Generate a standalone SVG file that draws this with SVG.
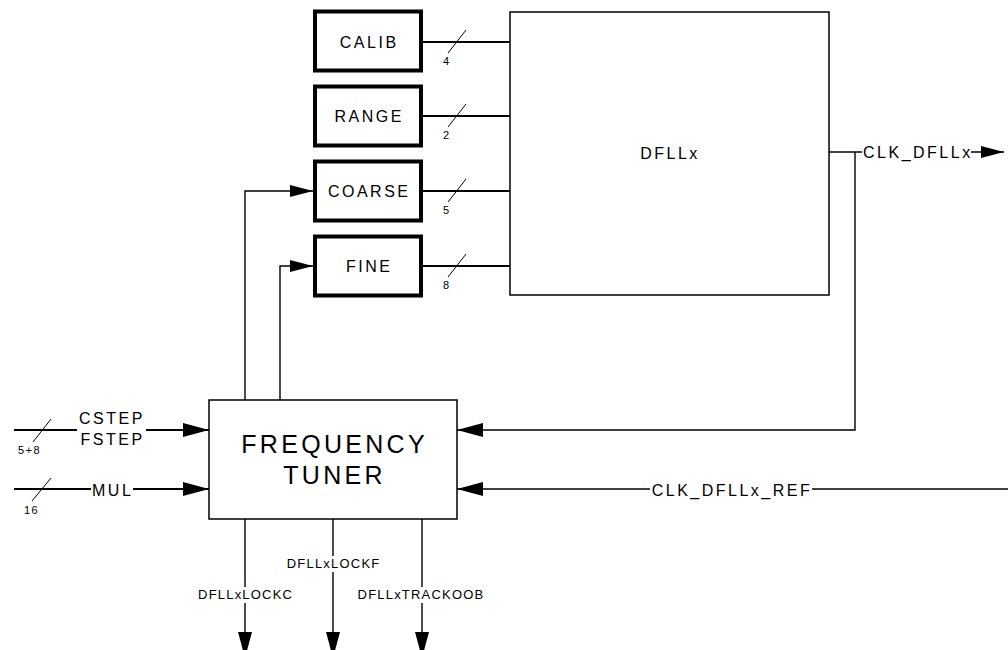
<svg xmlns="http://www.w3.org/2000/svg" width="1008" height="650" viewBox="0 0 1008 650">
<style>
  text { font-family: "Liberation Sans", Arial, sans-serif; fill: #000; }
  .reg { fill: #fff; stroke: #000; stroke-width: 4; }
  .blk { fill: #fff; stroke: #000; stroke-width: 1.5; }
  .lbl { font-size: 16px; letter-spacing: 2.5px; }
  .big { font-size: 25px; letter-spacing: 3.3px; }
  .num { font-size: 11px; letter-spacing: 1.5px; }
  .sig { font-size: 13px; letter-spacing: 1.2px; }
  .bus { fill: none; stroke: #000; stroke-width: 2; }
  .wire { fill: none; stroke: #000; stroke-width: 1.4; }
  .slash { fill: none; stroke: #000; stroke-width: 1; }
</style>
<defs>
  <marker id="arr" markerUnits="userSpaceOnUse" markerWidth="26" markerHeight="14" refX="26" refY="7" orient="auto">
    <path d="M0,0 L26,7 L0,14 Z" fill="#000"/>
  </marker>
  <marker id="arrS" markerUnits="userSpaceOnUse" markerWidth="23" markerHeight="12" refX="23" refY="6" orient="auto">
    <path d="M0,0 L23,6 L0,12 Z" fill="#000"/>
  </marker>
</defs>

<g id="connectors">
  <!-- register buses to DFLLx -->
  <path class="bus" d="M423,42 H510 M423,116 H510 M423,191 H510 M423,266 H510"/>
  <path class="slash" d="M448,53 L466,30 M448,127 L466,104 M448,202 L466,179 M448,277 L466,254"/>
  <text class="num" x="443" y="65">4</text>
  <text class="num" x="443" y="139">2</text>
  <text class="num" x="443" y="214">5</text>
  <text class="num" x="443" y="289">8</text>

  <!-- tuner to COARSE / FINE -->
  <path class="wire" d="M245,400 V191 H313" marker-end="url(#arrS)"/>
  <path class="wire" d="M280,400 V266 H313" marker-end="url(#arrS)"/>

  <!-- CLK_DFLLx output -->
  <path class="wire" d="M829,152 H862"/>
  <text class="lbl" x="863" y="157.5">CLK_DFLLx</text>
  <path class="wire" d="M971,152 H1004" marker-end="url(#arrS)"/>

  <!-- feedback -->
  <path class="wire" d="M855,152 V430 H457" marker-end="url(#arr)"/>

  <!-- reference clock -->
  <path class="wire" d="M1008,489 H812"/>
  <text class="lbl" x="732" y="495.5" text-anchor="middle">CLK_DFLLx_REF</text>
  <path class="wire" d="M650,489 H457" marker-end="url(#arr)"/>

  <!-- CSTEP / FSTEP input -->
  <path class="bus" d="M14,430 H77"/>
  <path class="bus" d="M146,430 H209" marker-end="url(#arr)"/>
  <path class="slash" d="M33,442 L51,419"/>
  <text class="num" x="18" y="454">5+8</text>
  <text class="lbl" x="79" y="424">CSTEP</text>
  <text class="lbl" x="80.5" y="445">FSTEP</text>

  <!-- MUL input -->
  <path class="bus" d="M14,489 H91"/>
  <path class="bus" d="M133,489 H209" marker-end="url(#arr)"/>
  <path class="slash" d="M32,501 L51,478"/>
  <text class="num" x="24" y="514">16</text>
  <text class="lbl" x="92" y="495.5">MUL</text>

  <!-- status outputs -->
  <path class="wire" d="M245,519 V587"/>
  <path class="wire" d="M245,603 V658" marker-end="url(#arr)"/>
  <text class="sig" x="245.6" y="599" text-anchor="middle">DFLLxLOCKC</text>
  <path class="wire" d="M333,519 V556"/>
  <path class="wire" d="M333,572 V658" marker-end="url(#arr)"/>
  <text class="sig" x="333.6" y="568" text-anchor="middle">DFLLxLOCKF</text>
  <path class="wire" d="M422,519 V587"/>
  <path class="wire" d="M422,603 V658" marker-end="url(#arr)"/>
  <text class="sig" x="421" y="599" text-anchor="middle">DFLLxTRACKOOB</text>
</g>

<g id="calib">
  <rect class="reg" x="315" y="11.5" width="106" height="59"/>
  <text class="lbl" x="369.2" y="47.5" text-anchor="middle">CALIB</text>
</g>
<g id="range">
  <rect class="reg" x="315" y="86.5" width="106" height="59"/>
  <text class="lbl" x="369.2" y="122" text-anchor="middle">RANGE</text>
</g>
<g id="coarse">
  <rect class="reg" x="315" y="161.5" width="106" height="59"/>
  <text class="lbl" x="369.2" y="197" text-anchor="middle">COARSE</text>
</g>
<g id="fine">
  <rect class="reg" x="315" y="236.5" width="106" height="59"/>
  <text class="lbl" x="369.2" y="272" text-anchor="middle">FINE</text>
</g>
<g id="dfllx">
  <rect class="blk" x="510" y="12" width="319" height="283"/>
  <text class="lbl" x="670" y="159" text-anchor="middle">DFLLx</text>
</g>
<g id="frequency-tuner">
  <rect class="blk" x="209" y="400" width="248" height="119"/>
  <text class="big" x="334.6" y="452.5" text-anchor="middle">FREQUENCY</text>
  <text class="big" x="334.6" y="483.5" text-anchor="middle">TUNER</text>
</g>
</svg>
